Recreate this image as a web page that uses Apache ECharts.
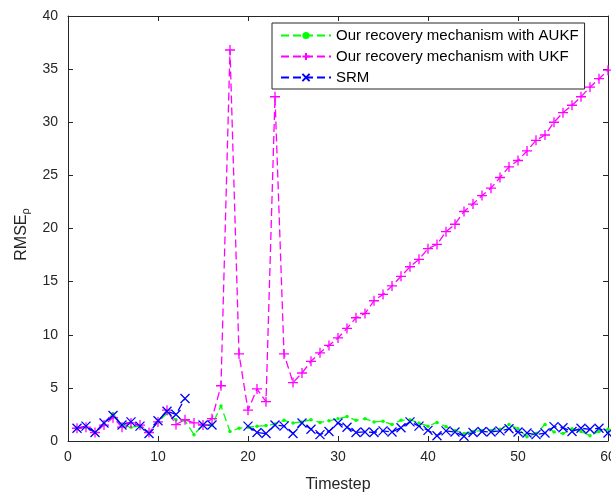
<!DOCTYPE html>
<html>
<head>
<meta charset="utf-8">
<script src="https://cdn.jsdelivr.net/npm/echarts@6/dist/echarts.min.js"></script>
<style>
html,body{margin:0;padding:0;background:#fff;}
#c{width:611px;height:493px;}
</style>
</head>
<body>
<div id="c"></div>
<script>
const timesteps = [1,2,3,4,5,6,7,8,9,10,11,12,13,14,15,16,17,18,19,20,21,22,23,24,25,26,27,28,29,30,31,32,33,34,35,36,37,38,39,40,41,42,43,44,45,46,47,48,49,50,51,52,53,54,55,56,57,58,59,60];
const xTicks = [0,10,20,30,40,50,60];
const yTicks = [0,5,10,15,20,25,30,35,40];
const seriesNames = ['Our recovery mechanism with AUKF','Our recovery mechanism with UKF','SRM'];
const aukf = [1.2,1.3,0.8,1.6,2.6,1.5,1.3,1.4,0.8,1.8,2.6,2.0,1.9,0.6,1.5,1.5,3.3,0.9,1.2,1.3,1.4,1.45,1.6,1.95,1.7,1.8,2.0,1.75,1.9,2.1,2.3,1.95,2.1,1.8,1.85,1.55,1.95,2.0,1.7,1.4,1.75,1.35,1.0,0.7,0.9,1.0,1.0,1.1,1.55,1.15,0.4,0.7,1.55,0.85,0.7,1.15,0.9,0.5,0.9,1.1];
const ukf = [1.2,1.3,0.8,1.5,2.2,1.3,1.7,1.5,0.8,1.8,2.9,1.55,2.0,1.7,1.5,2.1,5.2,36.8,8.2,2.9,4.9,3.7,32.4,8.2,5.5,6.4,7.5,8.3,9.0,9.7,10.6,11.6,12.0,13.2,13.8,14.6,15.5,16.4,17.1,18.1,18.5,19.7,20.4,21.6,22.3,23.1,23.8,24.8,25.8,26.4,27.3,28.3,28.8,30.0,30.9,31.6,32.4,33.3,34.1,34.9];
const srm = [1.2,1.4,0.8,1.7,2.4,1.5,1.8,1.4,0.7,1.9,2.8,2.5,4.0,null,1.5,1.5,null,null,null,1.4,0.8,0.7,1.5,1.4,0.7,1.7,1.1,0.6,0.9,1.7,1.3,0.8,0.85,0.8,0.95,0.85,1.25,1.8,1.4,1.0,0.5,0.95,0.85,0.45,0.8,0.9,0.85,0.95,1.15,0.85,0.75,0.6,0.75,1.35,1.25,0.9,1.2,1.1,1.2,0.75];

const FONT = '"Liberation Sans", Arial, Helvetica, sans-serif';
const AX = '#262626';
const pair = (xs, ys) => xs.map((x, i) => [x, ys[i]]);
const xMin = xTicks[0], xMax = xTicks[xTicks.length-1], xInt = xTicks[1]-xTicks[0];
const yMin = yTicks[0], yMax = yTicks[yTicks.length-1], yInt = yTicks[1]-yTicks[0];

const chart = echarts.init(document.getElementById('c'), null, {renderer:'canvas'});
const plusPath = 'path://M5,0L5,10M0,5L10,5';
const crossPath = 'path://M0,0L10,10M10,0L0,10';

const baseX = {type:'value', min:xMin, max:xMax, interval:xInt, splitLine:{show:false},
  axisLine:{show:true, onZero:false, lineStyle:{color:AX, width:1}}, axisTick:{show:true, inside:true, length:5, lineStyle:{color:AX}}};
const baseY = {type:'value', min:yMin, max:yMax, interval:yInt, splitLine:{show:false},
  axisLine:{show:true, onZero:false, lineStyle:{color:AX, width:1}}, axisTick:{show:true, inside:true, length:5, lineStyle:{color:AX}}};

chart.setOption({
  animation:false,
  backgroundColor:'#fff',
  textStyle:{fontFamily:FONT},
  grid:{left:68, right:3, top:16, bottom:52, containLabel:false, outerBoundsMode:'none'},
  legend:{
    orient:'vertical', left:272, top:23,
    data:seriesNames,
    itemWidth:50, itemHeight:9, itemGap:6,
    padding:[5,6,4,8],
    borderColor:AX, borderWidth:1, backgroundColor:'#fff',
    textStyle:{fontFamily:FONT, fontSize:15, color:'#000'}
  },
  xAxis:[
    Object.assign({}, baseX, {position:'bottom', name:'Timestep', nameLocation:'middle', nameGap:36,
      nameTextStyle:{fontFamily:FONT, fontSize:16, color:AX},
      axisLabel:{fontFamily:FONT, fontSize:14, color:AX, margin:9}}),
    Object.assign({}, baseX, {position:'top', axisLabel:{show:false}})
  ],
  yAxis:[
    Object.assign({}, baseY, {position:'left', name:'{n|RMSE}{s|ρ}', nameLocation:'middle', nameGap:34,
      nameTextStyle:{fontFamily:FONT, color:AX, padding:[0,12,0,0], rich:{
        n:{fontFamily:FONT, fontSize:16, color:AX},
        s:{fontFamily:FONT, fontSize:11, color:AX, verticalAlign:'bottom', padding:[9,0,0,0]}
      }},
      axisLabel:{fontFamily:FONT, fontSize:14, color:AX, margin:10}}),
    Object.assign({}, baseY, {position:'right', axisLabel:{show:false}})
  ],
  series:[
    {name:seriesNames[0], type:'line', data:pair(timesteps, aukf), xAxisIndex:0, yAxisIndex:0,
      symbol:'circle', symbolSize:3.5, showSymbol:true,
      lineStyle:{color:'#00ff00', width:1.3, type:[8,4]},
      itemStyle:{color:'#00ff00'}},
    {name:seriesNames[1], type:'line', data:pair(timesteps, ukf), xAxisIndex:0, yAxisIndex:0,
      symbol:plusPath, symbolSize:10, showSymbol:true,
      lineStyle:{color:'#ff00ff', width:1.3, type:[8,4]},
      itemStyle:{color:'#ff00ff', borderColor:'#ff00ff', borderWidth:1.3}},
    {name:seriesNames[2], type:'line', data:pair(timesteps, srm), xAxisIndex:0, yAxisIndex:0,
      symbol:crossPath, symbolSize:9, showSymbol:true, connectNulls:false,
      lineStyle:{color:'#0000ff', width:1.3, type:[8,4]},
      itemStyle:{color:'#0000ff', borderColor:'#0000ff', borderWidth:1.3}}
  ]
});
</script>
</body>
</html>
